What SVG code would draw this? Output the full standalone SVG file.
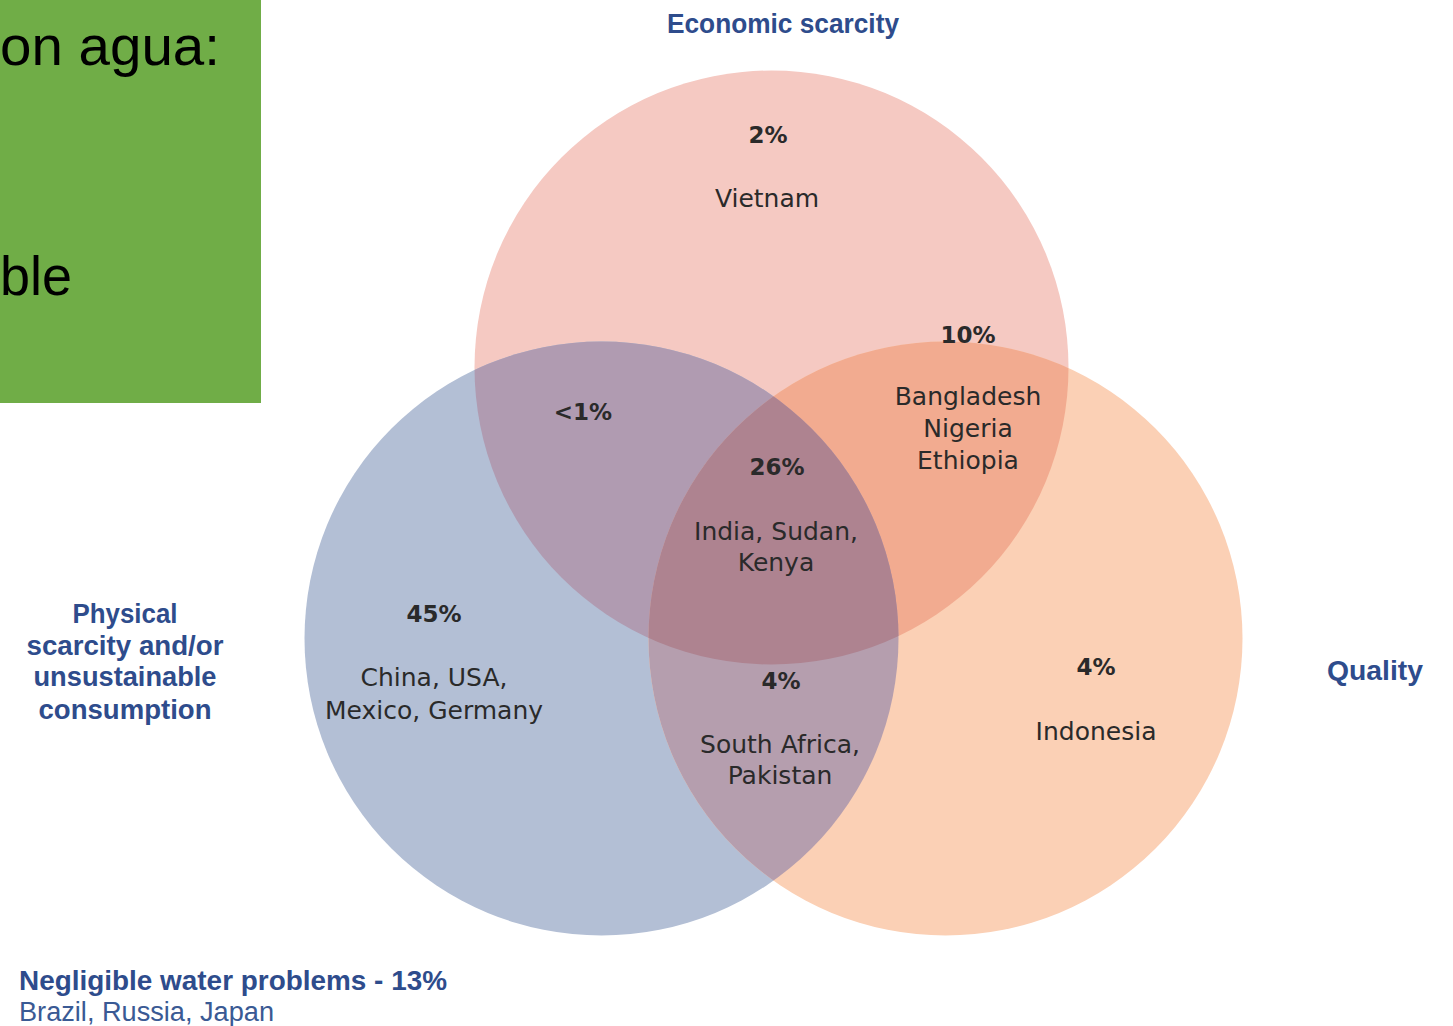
<svg xmlns="http://www.w3.org/2000/svg" width="1453" height="1026" viewBox="0 0 1453 1026">
<style>
.lbl{font-family:"DejaVu Sans",sans-serif;font-size:25px;fill:#2a2a2a;text-anchor:middle}
.pct{font-family:"DejaVu Sans",sans-serif;font-size:23px;font-weight:bold;fill:#2a2a2a;text-anchor:middle}
.ttl{font-family:"Liberation Sans",Arial,sans-serif;font-size:27px;font-weight:bold;fill:#2e4c8c;text-anchor:middle}
.big{font-family:"Liberation Sans",Arial,sans-serif;font-size:56px;fill:#000}
</style>
<defs>
<clipPath id="cE"><circle cx="771.5" cy="367.5" r="297"/></clipPath>
<clipPath id="cP"><circle cx="601.5" cy="638.5" r="297"/></clipPath>
</defs>
<rect width="1453" height="1026" fill="#fff"/>
<g id="slide-box">
<rect x="0" y="0" width="261" height="403" fill="#70ad47"/>
<text class="big" x="0" y="65" textLength="220" lengthAdjust="spacingAndGlyphs">on agua:</text>
<text class="big" x="0" y="295" textLength="72" lengthAdjust="spacingAndGlyphs">ble</text>
</g>
<g id="economic">
<circle cx="771.5" cy="367.5" r="297" fill="#f5c9c2"/>
</g>
<g id="physical">
<circle cx="601.5" cy="638.5" r="297" fill="#b3bfd5"/>
</g>
<g id="quality">
<circle cx="945.5" cy="638.5" r="297" fill="#fbd0b5"/>
</g>
<g id="overlaps">
<circle cx="601.5" cy="638.5" r="297" fill="#b09bb1" clip-path="url(#cE)"/>
<circle cx="945.5" cy="638.5" r="297" fill="#f2ab90" clip-path="url(#cE)"/>
<circle cx="945.5" cy="638.5" r="297" fill="#b59eae" clip-path="url(#cP)"/>
<g clip-path="url(#cE)"><circle cx="945.5" cy="638.5" r="297" fill="#ae8390" clip-path="url(#cP)"/></g>
</g>
<g id="titles">
<text class="ttl" x="783" y="33" textLength="232" lengthAdjust="spacingAndGlyphs">Economic scarcity</text>
<text class="ttl" x="1375" y="680" textLength="96" lengthAdjust="spacingAndGlyphs">Quality</text>
<text class="ttl" x="125" y="623" textLength="105" lengthAdjust="spacingAndGlyphs">Physical</text>
<text class="ttl" x="125" y="655" textLength="197" lengthAdjust="spacingAndGlyphs">scarcity and/or</text>
<text class="ttl" x="125" y="686" textLength="183" lengthAdjust="spacingAndGlyphs">unsustainable</text>
<text class="ttl" x="125" y="719" textLength="173" lengthAdjust="spacingAndGlyphs">consumption</text>
<text class="ttl" x="19" y="990" style="text-anchor:start" textLength="428" lengthAdjust="spacingAndGlyphs">Negligible water problems - 13%</text>
<text class="ttl" x="19" y="1021" style="text-anchor:start;font-weight:normal;fill:#3a5a94" textLength="255" lengthAdjust="spacingAndGlyphs">Brazil, Russia, Japan</text>
</g>
<g id="labels">
<text class="pct" x="768" y="143">2%</text>
<text class="lbl" x="767" y="207">Vietnam</text>
<text class="pct" x="968" y="343">10%</text>
<text class="lbl" x="968" y="405">Bangladesh</text>
<text class="lbl" x="968" y="437">Nigeria</text>
<text class="lbl" x="968" y="469">Ethiopia</text>
<text class="pct" x="583" y="420">&lt;1%</text>
<text class="pct" x="777" y="475">26%</text>
<text class="lbl" x="776" y="540">India, Sudan,</text>
<text class="lbl" x="776" y="571">Kenya</text>
<text class="pct" x="434" y="622">45%</text>
<text class="lbl" x="434" y="686">China, USA,</text>
<text class="lbl" x="434" y="719">Mexico, Germany</text>
<text class="pct" x="781" y="689">4%</text>
<text class="lbl" x="780" y="753">South Africa,</text>
<text class="lbl" x="780" y="784">Pakistan</text>
<text class="pct" x="1096" y="675">4%</text>
<text class="lbl" x="1096" y="740">Indonesia</text>
</g>
</svg>
